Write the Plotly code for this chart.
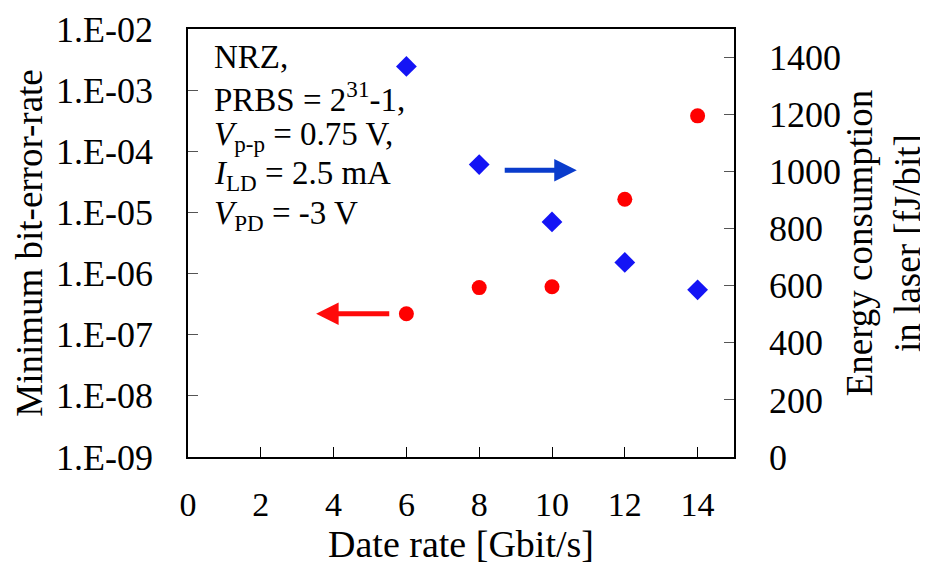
import numpy as np
import plotly.graph_objects as go

# data
rate = [6, 8, 10, 12, 14]
ber = [2.2e-7, 5.9e-7, 6.1e-7, 1.64e-5, 3.8e-4]
energy = [1369, 1025, 824, 682, 586]

ber_ticks = [1e-9, 1e-8, 1e-7, 1e-6, 1e-5, 1e-4, 1e-3, 1e-2]
ber_labels = ["1.E-09", "1.E-08", "1.E-07", "1.E-06", "1.E-05", "1.E-04", "1.E-03", "1.E-02"]

info_lines = ["NRZ,", "PRBS = 2<sup>31</sup>-1,", "<i>V</i><sub>p-p</sub> = 0.75 V,",
              "<i>I</i><sub>LD</sub> = 2.5 mA", "<i>V</i><sub>PD</sub> = -3 V"]

FONT = "'Times New Roman', 'Liberation Serif', 'DejaVu Serif', serif"

fig = go.Figure()
fig.add_trace(go.Scatter(x=rate, y=ber, mode="markers", name="BER",
                         marker=dict(symbol="circle", size=15, color="#FF0000")))
fig.add_trace(go.Scatter(x=rate, y=energy, mode="markers", name="Energy", yaxis="y2",
                         marker=dict(symbol="diamond", size=16, color="#1414F5")))

# arrows pointing to the axis each series belongs to
fig.add_annotation(x=3.52, y=np.log10(2.2e-7), ax=5.57, ay=np.log10(2.2e-7),
                   xref="x", yref="y", axref="x", ayref="y", text="",
                   showarrow=True, arrowhead=2, arrowsize=0.9, arrowwidth=5,
                   arrowcolor="#FF0A0A", standoff=0)
fig.add_annotation(x=10.68, y=1005, ax=8.66, ay=1005,
                   xref="x", yref="y2", axref="x", ayref="y2", text="",
                   showarrow=True, arrowhead=2, arrowsize=0.9, arrowwidth=5,
                   arrowcolor="#0A3CCC", standoff=0)

# condition text, one annotation per line (tighter than plotly's <br> spacing)
for i, line in enumerate(info_lines):
    fig.add_annotation(x=0, y=1, xref="paper", yref="paper", xanchor="left", yanchor="middle",
                       xshift=24, yshift=-28 - 39.5 * i, align="left", showarrow=False,
                       font=dict(family=FONT, size=33, color="black"), text=line)

# page body adds 8px, so the figure is 8px smaller than the window
fig.update_layout(
    width=920, height=557,
    margin=dict(l=180, r=194, t=21, b=108, autoexpand=False),
    paper_bgcolor="white", plot_bgcolor="white",
    showlegend=False,
    font=dict(family=FONT, size=36, color="black"),
    xaxis=dict(range=[0, 15], tickvals=[0, 2, 4, 6, 8, 10, 12, 14], automargin=False,
               ticks="inside", ticklen=10, tickcolor="black", ticklabelstandoff=16,
               tickfont=dict(size=34),
               showline=True, linecolor="black", linewidth=1.5, mirror=True,
               showgrid=False, zeroline=False,
               title=dict(text="Date rate [Gbit/s]", font=dict(size=38), standoff=0)),
    yaxis=dict(type="log", range=[-9, -2], tickvals=ber_ticks, ticktext=ber_labels,
               automargin=False,
               ticks="inside", ticklen=10, tickcolor="#555", ticklabelstandoff=26,
               showline=True, linecolor="black", linewidth=1.5, mirror=True,
               showgrid=False, zeroline=False,
               title=dict(text="Minimum bit-error-rate", font=dict(size=37), standoff=2)),
    yaxis2=dict(overlaying="y", side="right", range=[0, 1500], automargin=False,
                tickvals=[0, 200, 400, 600, 800, 1000, 1200, 1400],
                ticks="inside", ticklen=10, tickcolor="#555", ticklabelstandoff=34,
                showline=False, showgrid=False, zeroline=False,
                title=dict(text="Energy consumption<br>in laser [fJ/bit]",
                           font=dict(size=37), standoff=8)),
)

fig.write_html("out.html")
